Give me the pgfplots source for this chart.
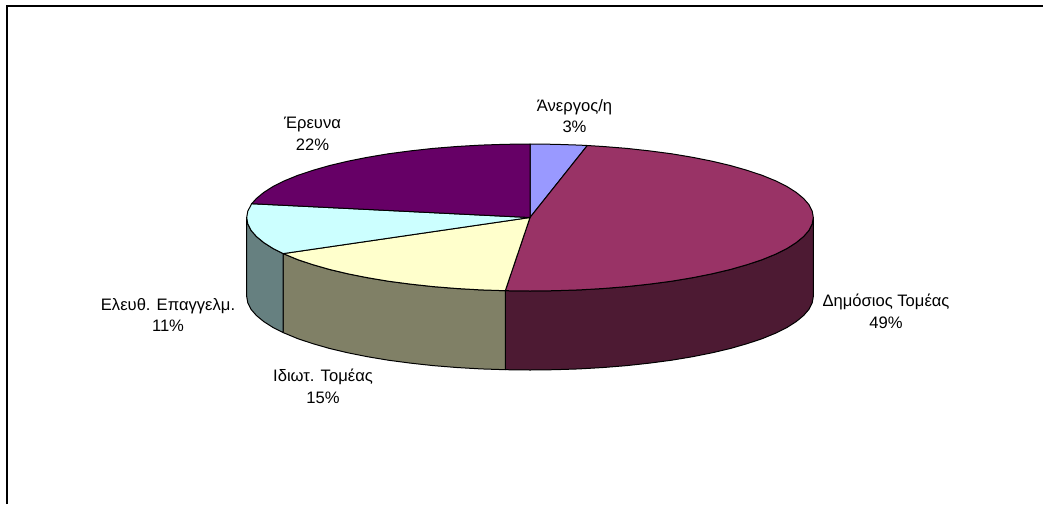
\documentclass[border=0pt]{standalone}
\usepackage{fontspec}
\setmainfont{Liberation Sans}
\usepackage{pgfplots}
\pgfplotsset{compat=1.18}

\definecolor{blueT}{HTML}{9999FF}
\definecolor{redT}{HTML}{993366}
\definecolor{redS}{HTML}{4D1A33}
\definecolor{yellowT}{HTML}{FFFFCC}
\definecolor{oliveS}{HTML}{808066}
\definecolor{cyanT}{HTML}{CCFFFF}
\definecolor{tealS}{HTML}{668080}
\definecolor{purpleT}{HTML}{660066}

\tikzset{
    slice/.style={draw=black, line width=1pt, line join=round},
    lab/.style={font=\fontsize{16.6}{21.7}\selectfont, align=center, inner sep=0pt, text=black},
}

\begin{document}
\begin{tikzpicture}
\path[use as bounding box] (0,0) rectangle (1043pt,504pt);
\begin{axis}[
    at={(0,0)}, anchor=south west,
    scale only axis, width=1043pt, height=504pt,
    xmin=0, xmax=1043, ymin=0, ymax=504,
    y dir=reverse,
    axis lines=none,
    clip=false,
]
% outer frame, only left and top
\addplot[black, line width=2pt, line cap=butt, line join=miter] coordinates {(7,504) (7,5.5) (1043,5.5)};

% side walls
\addplot[slice, fill=redS] coordinates {
 (813.3,217.5)(812.2,223.9)(809.0,230.3)(803.6,236.5)(796.2,242.6)(786.8,248.6)(775.3,254.3)
 (762.1,259.7)(747.0,264.7)(730.3,269.5)(712.1,273.8)(692.5,277.7)(671.7,281.2)(649.7,284.1)
 (626.9,286.6)(603.3,288.5)(579.2,289.9)(554.7,290.7)(530,291)(505.3,290.7)
 (505.3,369.7)(530,370)(554.7,369.7)(579.2,368.9)(603.3,367.5)(626.9,365.6)(649.7,363.1)
 (671.7,360.2)(692.5,356.7)(712.1,352.8)(730.3,348.5)(747.0,343.7)(762.1,338.7)(775.3,333.3)
 (786.8,327.6)(796.2,321.6)(803.6,315.5)(809.0,309.3)(812.2,302.9)(813.3,296.5)
} --cycle;
\addplot[slice, fill=oliveS] coordinates {
 (505.3,290.7)(480.8,289.9)(456.7,288.5)(433.1,286.6)(410.3,284.1)(388.3,281.2)(367.5,277.7)
 (347.9,273.8)(329.7,269.5)(313.0,264.7)(297.9,259.7)(283.2,253.6)
 (283.2,332.6)(297.9,338.7)(313.0,343.7)(329.7,348.5)(347.9,352.8)(367.5,356.7)(388.3,360.2)
 (410.3,363.1)(433.1,365.6)(456.7,367.5)(480.8,368.9)(505.3,369.7)
} --cycle;
\addplot[slice, fill=tealS] coordinates {
 (283.2,253.6)(273.2,248.6)(263.8,242.6)(256.4,236.5)(251.0,230.3)(247.8,223.9)(246.7,217.5)
 (246.7,296.5)(247.8,302.9)(251.0,309.3)(256.4,315.5)(263.8,321.6)(273.2,327.6)(283.2,332.6)
} --cycle;

% top slices, Άνεργος/η 3%
\addplot[slice, fill=blueT] coordinates {
 (530,217.5)(530,144)(554.7,144.3)(579.2,145.1)(587.3,145.5)
} --cycle;
% Δημόσιος Τομέας 49%
\addplot[slice, fill=redT] coordinates {
 (530,217.5)(587.3,145.5)(603.3,146.5)(626.9,148.4)(649.7,150.9)(671.7,153.8)(692.5,157.3)
 (712.1,161.2)(730.3,165.5)(747.0,170.3)(762.1,175.3)(775.3,180.7)(786.8,186.4)(796.2,192.4)
 (803.6,198.5)(809.0,204.7)(812.2,211.1)(813.3,217.5)(812.2,223.9)(809.0,230.3)(803.6,236.5)
 (796.2,242.6)(786.8,248.6)(775.3,254.3)(762.1,259.7)(747.0,264.7)(730.3,269.5)(712.1,273.8)
 (692.5,277.7)(671.7,281.2)(649.7,284.1)(626.9,286.6)(603.3,288.5)(579.2,289.9)(554.7,290.7)
 (530,291)(505.3,290.7)
} --cycle;
% Ιδιωτ. Τομέας 15%
\addplot[slice, fill=yellowT] coordinates {
 (530,217.5)(505.3,290.7)(480.8,289.9)(456.7,288.5)(433.1,286.6)(410.3,284.1)(388.3,281.2)
 (367.5,277.7)(347.9,273.8)(329.7,269.5)(313.0,264.7)(297.9,259.7)(283.2,253.6)
} --cycle;
% Ελευθ. Επαγγελμ. 11%
\addplot[slice, fill=cyanT] coordinates {
 (530,217.5)(283.2,253.6)(273.2,248.6)(263.8,242.6)(256.4,236.5)(251.0,230.3)(247.8,223.9)
 (246.7,217.5)(247.8,211.1)(251.7,203.7)
} --cycle;
% Έρευνα 22%
\addplot[slice, fill=purpleT] coordinates {
 (530,217.5)(251.7,203.7)(256.4,198.5)(263.8,192.4)(273.2,186.4)(284.7,180.7)(297.9,175.3)
 (313.0,170.3)(329.7,165.5)(347.9,161.2)(367.5,157.3)(388.3,153.8)(410.3,150.9)(433.1,148.4)
 (456.7,146.5)(480.8,145.1)(505.3,144.3)(530,144)
} --cycle;

\node[lab] at (axis cs:574.5,116) {Άνεργος/η\\3\%};
\node[lab] at (axis cs:886,311) {Δημόσιος Τομέας\\49\%};
\node[lab] at (axis cs:323,386) {Ιδιωτ. Τομέας\\15\%};
\node[lab] at (axis cs:168,315) {Ελευθ. Επαγγελμ.\\11\%};
\node[lab] at (axis cs:312.5,133.5) {Έρευνα\\22\%};
\end{axis}
\end{tikzpicture}
\end{document}
